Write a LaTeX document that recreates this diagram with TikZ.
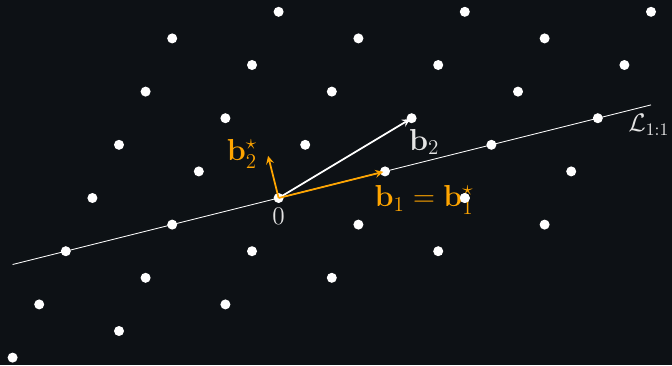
\documentclass[tikz,border=0pt]{standalone}
\usepackage{amsmath,amssymb}
\usepackage{xcolor}
\usepackage{tikz}
\usetikzlibrary{arrows,positioning,calc}

\definecolor{bgdark}{RGB}{13,17,21}
\definecolor{vecorange}{RGB}{255,165,0}
\definecolor{labgray}{RGB}{228,228,228}

\begin{document}
\begin{tikzpicture}[
  x=0.532cm, y=0.532cm,
  latpt/.style={circle, fill=white, inner sep=0pt, minimum size=5.7pt},
  spanline/.style={white, line width=0.5pt},
  arrow/.style={->, line width=1pt, >=stealth, shorten >=1pt},
  veclabel/.style={font=\LARGE, inner sep=1pt}
]
  % Background
  \fill[bgdark] (-10.474,-6.278) rectangle (14.789,7.444);
  \useasboundingbox (-10.474,-6.278) rectangle (14.789,7.444);
  \clip (-10.474,-6.278) rectangle (14.789,7.444);

  % Line spanned by b1
  \coordinate (lstart) at (-10,-2.5);
  \coordinate (lend) at (14,3.5);
  \draw[spanline] (lstart) -- (lend);

  % Lattice points i*(4,1) + n*(1,2)
  \foreach \i in {-2,...,3} {
    \foreach \n in {-2,...,4} {
      \node[latpt] (p\i\n) at ({4*\i+\n}, {\i+2*\n}) {};
    }
  }

  % Basis vectors
  \coordinate (b2s) at ({-7/17}, {28/17});
  \draw[arrow, white] (p00.center) -- (p11.center);
  \draw[arrow, vecorange] (p00.center) -- (p10.center);
  \draw[arrow, vecorange] (p00.center) -- (b2s);

  % Labels
  \node[veclabel, labgray] (lb2) at (5.47,2.1) {$\mathbf{b}_2$};
  \node[veclabel, vecorange] (lb2s) at (-1.38,1.65) {$\mathbf{b}_2^\star$};
  \node[veclabel, vecorange] (lb1) at (5.47,-0.08) {$\mathbf{b}_1 = \mathbf{b}_1^\star$};
  \node[font=\Large, labgray] (lzero) at (0,-0.68) {$0$};
  \node[font=\Large, labgray, anchor=west, inner sep=0pt] (lspan) at (13.14,2.75) {$\mathcal{L}_{1:1}$};

  % Dot drawn over the label
  \node[latpt] (q) at (p2-1) {};
\end{tikzpicture}
\end{document}
